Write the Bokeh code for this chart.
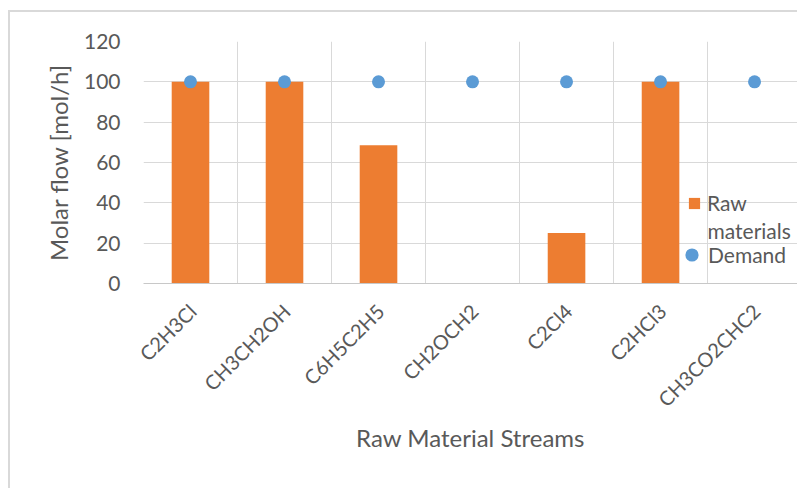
import math
from bokeh.plotting import figure
from bokeh.models import (Range1d, FixedTicker, Legend, LegendItem, Label, InlineStyleSheet)
from bokeh.embed import file_html
from bokeh.resources import INLINE

categories = ["C2H3Cl", "CH3CH2OH", "C6H5C2H5", "CH2OCH2", "C2Cl4", "C2HCl3", "CH3CO2CHC2"]
raw_materials = [100, 100, 68.5, 0, 25, 100, 0]
demand = [100, 100, 100, 100, 100, 100, 100]
y_ticks = [0, 20, 40, 60, 80, 100, 120]

FONT = "Lato"
TXT = "#595959"
GRID = "#D9D9D9"

xs = list(range(len(categories)))

p = figure(width=797, height=488, output_backend="svg", toolbar_location=None,
           x_range=Range1d(-0.5, 6.457), y_range=Range1d(0, 120),
           min_border_left=143, min_border_right=0, min_border_top=41, min_border_bottom=205)
p.outline_line_color = None
p.background_fill_color = "white"
p.border_fill_color = "white"
p.stylesheets = [InlineStyleSheet(css=(
    ":host::after { content: ''; position: absolute; left: 8px; top: 10px; right: 0; bottom: 0;"
    " border-left: 2px solid #D9D9D9; border-top: 2px solid #D9D9D9; pointer-events: none; }"))]

bars = p.vbar(x=xs, top=raw_materials, width=0.4, fill_color="#ED7D31", line_color=None)
dots = p.scatter(x=xs, y=demand, size=13, fill_color="#5B9BD5", line_color=None)

# x axis
shift = 0.02
tick_pos = [round(i + shift, 2) for i in xs]
p.xaxis.ticker = FixedTicker(ticks=tick_pos)
p.xaxis.major_label_overrides = {t: c for t, c in zip(tick_pos, categories)}
p.xaxis.major_label_orientation = math.pi / 4
p.xaxis.major_tick_line_color = None
p.xaxis.major_tick_out = 0
p.xaxis.minor_tick_line_color = None
p.xaxis.axis_line_color = "#C8C8C8"
p.xaxis.major_label_text_font = FONT
p.xaxis.major_label_text_font_size = "20px"
p.xaxis.major_label_text_color = TXT
p.xaxis.major_label_standoff = 24
p.xaxis.axis_label = "Raw Material Streams"
p.xaxis.axis_label_text_font = FONT
p.xaxis.axis_label_text_font_size = "24px"
p.xaxis.axis_label_text_font_style = "normal"
p.xaxis.axis_label_text_color = TXT
p.xaxis.axis_label_standoff = 0

p.xgrid.ticker = FixedTicker(ticks=[-0.5, 0.5, 1.5, 2.5, 3.5, 4.5, 5.5])
p.xgrid.grid_line_color = GRID

# y axis
p.yaxis.ticker = FixedTicker(ticks=y_ticks)
p.yaxis.major_tick_line_color = None
p.yaxis.major_tick_out = 0
p.yaxis.minor_tick_line_color = None
p.yaxis.axis_line_color = None
p.yaxis.major_label_text_font = FONT
p.yaxis.major_label_text_font_size = "21px"
p.yaxis.major_label_text_color = TXT
p.yaxis.major_label_standoff = 23
p.yaxis.axis_label = "Molar flow [mol/h]"
p.yaxis.axis_label_text_font = FONT
p.yaxis.axis_label_text_font_size = "24px"
p.yaxis.axis_label_text_font_style = "normal"
p.yaxis.axis_label_text_color = TXT
p.yaxis.axis_label_standoff = 8
p.ygrid.grid_line_color = GRID

legend_common = dict(label_text_font=FONT, label_text_font_size="21px", label_text_color=TXT,
                     padding=0, margin=0, background_fill_alpha=0, border_line_color=None)
leg_raw = Legend(items=[LegendItem(label="Raw", renderers=[bars])],
                 location=(544, 68), glyph_width=14, glyph_height=14, label_standoff=6,
                 **legend_common)
leg_dem = Legend(items=[LegendItem(label="Demand", renderers=[dots])],
                 location=(532, 12), glyph_width=33, glyph_height=33, label_standoff=0,
                 **legend_common)
p.add_layout(leg_raw, "center")
p.add_layout(leg_dem, "center")
p.add_layout(Label(x=5.5, y=26.3, text="materials", text_font=FONT, text_font_size="21px",
                   text_color=TXT, text_align="left", text_baseline="middle"))

open("out.html", "w").write(file_html(p, INLINE))
